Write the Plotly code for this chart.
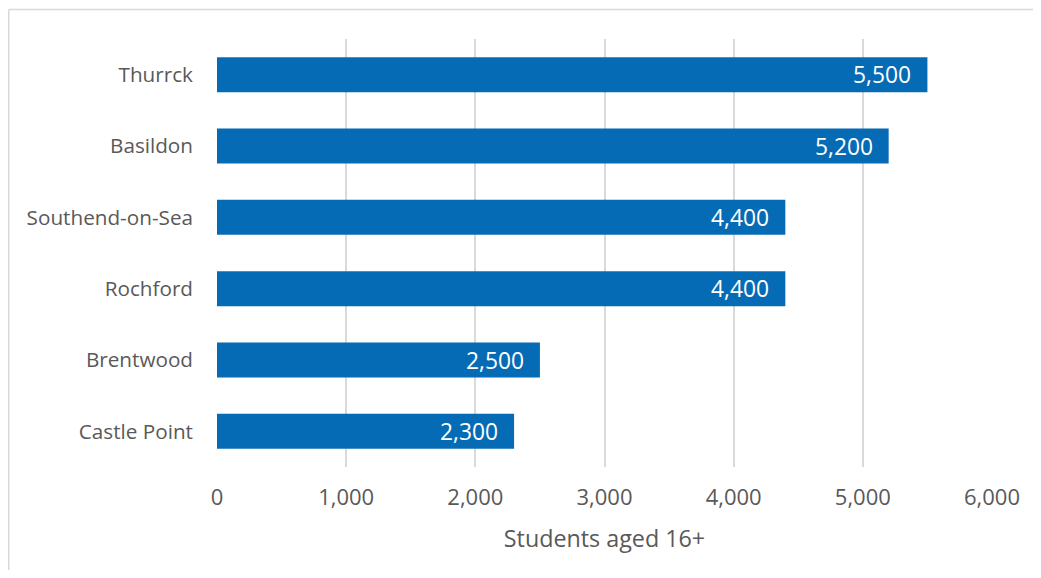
import plotly.graph_objects as go

categories = ["Thurrck", "Basildon", "Southend-on-Sea", "Rochford", "Brentwood", "Castle Point"]
values = [5500, 5200, 4400, 4400, 2500, 2300]
x_ticks = [0, 1000, 2000, 3000, 4000, 5000, 6000]
x_title = "Students aged 16+"

W, H = 1025, 562
L, R, T, B = 209, 41, 31, 103
pw, ph = W - L - R, H - T - B

font_family = "Open Sans, Lato, sans-serif"
gray = "#595959"

fig = go.Figure(go.Bar(
    y=categories, x=values, orientation="h",
    marker=dict(color="#066BB5", line=dict(width=0)),
    width=0.49, hoverinfo="skip",
))

for c, v in zip(categories, values):
    fig.add_annotation(x=v, y=c, text=f"{v:,}", showarrow=False, xanchor="right",
                       xshift=-14, yshift=0,
                       font=dict(color="white", size=22.8, family=font_family))

# outer border (top and left edges visible in the frame)
bx0 = (0.75 - L) / pw
by1 = (H - 1.5 - B) / ph
fig.add_shape(type="line", xref="paper", yref="paper",
              x0=bx0, x1=(W + 40 - L) / pw, y0=by1, y1=by1,
              line=dict(color="#D9D9D9", width=1.5), layer="below")
fig.add_shape(type="line", xref="paper", yref="paper",
              x0=bx0, x1=bx0, y0=by1, y1=-(B + 40) / ph,
              line=dict(color="#D9D9D9", width=1.5), layer="below")

fig.update_layout(
    width=W, height=H,
    margin=dict(l=L, r=R, t=T, b=B, pad=0),
    paper_bgcolor="white", plot_bgcolor="white",
    showlegend=False,
    font=dict(family=font_family, color=gray, size=20),
    xaxis=dict(range=[0, 6000], tickvals=x_ticks, tickformat=",", showgrid=True,
               gridcolor="#D9D9D9", gridwidth=1.5, zeroline=False, showline=False,
               ticks="", ticklabelstandoff=15,
               tickfont=dict(size=22, color=gray, family=font_family),
               title=dict(text=x_title, font=dict(size=23.3, color=gray, family=font_family), standoff=20)),
    yaxis=dict(categoryorder="array", categoryarray=categories, autorange="reversed",
               showgrid=False, zeroline=False, showline=False, ticks="",
               ticklabelstandoff=23,
               tickfont=dict(size=20.7, color=gray, family=font_family)),
)

fig.write_html("out.html")
